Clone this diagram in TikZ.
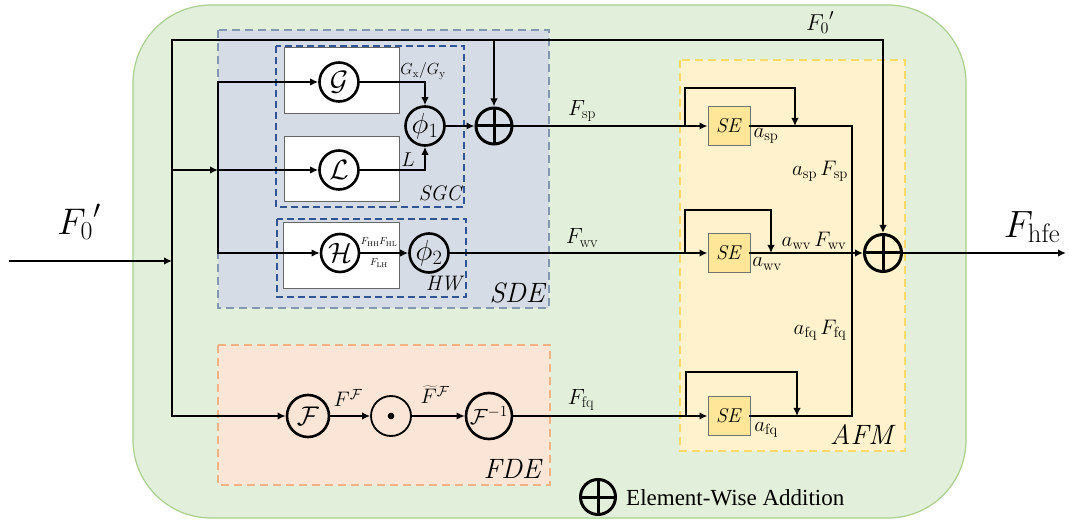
\RequirePackage{fix-cm}
\documentclass[tikz,border=0pt]{standalone}
\usepackage{fontspec}
\newfontfamily\legendfont{Liberation Serif}
\usetikzlibrary{arrows.meta}
\newcommand\fs[1]{\fontsize{#1}{#1}\selectfont}
\definecolor{bgG}{HTML}{E2EFDA}
\definecolor{bgGb}{HTML}{A9D08E}
\definecolor{sdeF}{HTML}{D6DCE5}
\definecolor{sdeB}{HTML}{8497B0}
\definecolor{sgcB}{HTML}{2F5597}
\definecolor{fdeF}{HTML}{FBE5D6}
\definecolor{fdeB}{HTML}{F4B183}
\definecolor{afmF}{HTML}{FFF2CC}
\definecolor{afmB}{HTML}{FFD966}
\definecolor{seY}{HTML}{FFE699}
\begin{document}
\begin{tikzpicture}[x=1pt,y=-1pt,
  conn/.style={line width=2.5pt,line cap=rect},
  arr/.style={conn,-{Latex[length=8pt,width=7.5pt]}},
  opc/.style={circle,draw,line width=2.6pt,minimum size=#1,inner sep=0pt},
  oplusnode/.style={circle,draw,line width=3pt,minimum size=#1,inner sep=0pt,
    path picture={\draw[line width=3pt] (path picture bounding box.north)--(path picture bounding box.south)
      (path picture bounding box.west)--(path picture bounding box.east);}},
  sebox/.style={draw=black!55,fill=seY,line width=1pt,minimum width=42pt,minimum height=39pt,inner sep=0pt,font=\fs{20}},
  wbox/.style={draw=black!60,fill=white,line width=1pt},
  lab/.style={inner sep=0pt,font=\fs{#1}},
]
\useasboundingbox (0,0) rectangle (1069,521);
% background
\path[fill=bgG,draw=bgGb,line width=1.2pt,rounded corners=78pt] (133,5) rectangle (966,518);
% region boxes
\path[fill=sdeF,draw=sdeB,line width=2.3pt,dash pattern=on 8pt off 5pt] (218,30) rectangle (549,308);
\path[fill=fdeF,draw=fdeB,line width=2.3pt,dash pattern=on 8pt off 5pt] (218,345) rectangle (550,485);
\path[fill=afmF,draw=afmB,line width=2.3pt,dash pattern=on 8pt off 5pt] (680,60) rectangle (905,451);
\path[draw=sgcB,line width=2.5pt,dash pattern=on 7pt off 4pt] (276,46) rectangle (464,207);
\path[draw=sgcB,line width=2.5pt,dash pattern=on 7pt off 4pt] (277,219) rectangle (466,297);
\path[wbox] (284,48) rectangle (399,114);
\path[wbox] (284,137) rectangle (399,202);
\path[wbox] (283,223) rectangle (399,289);
% region labels
\node[lab=28] (lSDE) at (518,293) {\textit{SDE}};
\node[lab=28] (lFDE) at (513,469) {\textit{FDE}};
\node[lab=28] (lAFM) at (863,435) {\textit{AFM}};
\node[lab=21] (lSGC) at (441,193) {\textit{SGC}};
\node[lab=21] (lHW) at (445,284) {\textit{HW}};
% operator nodes
\node[opc=39pt,font=\fs{28}] (G) at (339,82) {$\mathcal{G}$};
\node[opc=39pt,font=\fs{28}] (L) at (339,170) {$\mathcal{L}$};
\node[opc=39pt,font=\fs{29}] (phi1) at (425,126) {$\phi_1$};
\node[oplusnode=36pt] (op1) at (494,126) {};
\node[opc=38pt,font=\fs{28}] (H) at (340,253) {$\mathcal{H}$};
\node[opc=39pt,font=\fs{29}] (phi2) at (429,253) {$\phi_2$};
\node[opc=42pt,font=\fs{27}] (Fc) at (308,416) {$\mathcal{F}$};
\node[circle,draw,line width=1.8pt,minimum size=40pt,inner sep=0pt] (odot) at (391,416) {};
\fill (odot.center) circle (3.3pt);
\node[opc=46pt,font=\fs{22}] (Finv) at (489,416) {$\mathcal{F}^{-1}$};
\node[sebox] (se1) at (729,126) {\textit{SE}};
\node[sebox] (se2) at (729,253) {\textit{SE}};
\node[sebox] (se3) at (729,416) {\textit{SE}};
\node[oplusnode=37pt] (opF) at (883,253) {};
% coordinates
\coordinate (in) at (10,261);
\coordinate (j1) at (172,261);
\coordinate (t0) at (172,40);
\coordinate (b0) at (172,416);
\coordinate (tr) at (883,40);
\coordinate (t1) at (494,40);
\coordinate (jL0) at (172,170);
\coordinate (jL) at (218,170);
\coordinate (jG) at (218,82);
\coordinate (jH) at (218,253);
\coordinate (b1) at (685,126);
\coordinate (k1) at (795,88);
\coordinate (b2) at (685,253);
\coordinate (k2) at (771,210);
\coordinate (b3) at (686,416);
\coordinate (k3) at (797,372);
\coordinate (m1) at (852,253);
\coordinate (out) at (1066,253);
% connectors
\draw[arr] (in) -- (j1);
\draw[arr] (b0) -- (t0) -- (tr) -- (opF);
\draw[arr] (b0) -- (Fc);
\draw[arr] (t1) -- (op1);
\draw[arr] (jL0) -- (jL);
\draw[conn] (jG) -- (jH);
\draw[arr] (jG) -- (G);
\draw[arr] (jL) -- (L);
\draw[arr] (jH) -- (H);
\draw[arr] (G) -| (phi1);
\draw[arr] (L) -| (phi1);
\draw[arr] (phi1) -- (op1);
\draw[arr] (op1) -- (se1);
\draw[arr] (b1) |- (k1) -- (k1 |- se1);
\draw[conn] (se1) -| (m1);
\draw[arr] (H) -- (phi2);
\draw[arr] (phi2) -- (se2);
\draw[arr] (b2) |- (k2) -- (k2 |- se2);
\draw[arr] (se2) -- (opF);
\draw[arr] (opF) -- (out);
\draw[arr] (Fc) -- (odot);
\draw[arr] (odot) -- (Finv);
\draw[arr] (Finv) -- (se3);
\draw[arr] (b3) |- (k3) -- (k3 |- se3);
\draw[conn] (se3) -| (m1);
% labels
\node[lab=37] (lin) at (79,222) {${F_0}'$};
\node[lab=23] (ltop) at (820,23) {${F_0}'$};
\node[lab=38] (lout) at (1032,227) {$F_{\mathrm{hfe}}$};
\node[lab=16] (lG) at (423,71) {$G_{\mathrm{x}}/G_{\mathrm{y}}$};
\node[lab=20] (lL) at (408,160) {$L$};
\node[lab=10] (lHH) at (379,242) {$F_{\mathrm{HH}}F_{\mathrm{HL}}$};
\node[lab=10] (lLH) at (379,263) {$F_{\mathrm{LH}}$};
\node[lab=21] (lFF) at (348,398) {$F^{\mathcal{F}}$};
\node[lab=21] (lFt) at (435,395) {$\widetilde{F}^{\mathcal{F}}$};
\node[lab=22] (lsp) at (582,111) {$F_{\mathrm{sp}}$};
\node[lab=22] (lwv) at (582,238) {$F_{\mathrm{wv}}$};
\node[lab=22] (lfq) at (581,400) {$F_{\mathrm{fq}}$};
\node[lab=21] (asp) at (766,136) {$a_{\mathrm{sp}}$};
\node[lab=21] (awv) at (767,264) {$a_{\mathrm{wv}}$};
\node[lab=21] (afq) at (766,430) {$a_{\mathrm{fq}}$};
\node[lab=21] (aFsp) at (820,171) {$a_{\mathrm{sp}}\,F_{\mathrm{sp}}$};
\node[lab=21] (aFwv) at (814,241) {$a_{\mathrm{wv}}\,F_{\mathrm{wv}}$};
\node[lab=21] (aFfq) at (820,330) {$a_{\mathrm{fq}}\,F_{\mathrm{fq}}$};
% legend
\node[oplusnode=35pt] (legop) at (598,497) {};
\node[anchor=west,inner sep=0pt,font=\legendfont\fs{23}] (legtx) at (626,498) {Element-Wise Addition};
\end{tikzpicture}
\end{document}
